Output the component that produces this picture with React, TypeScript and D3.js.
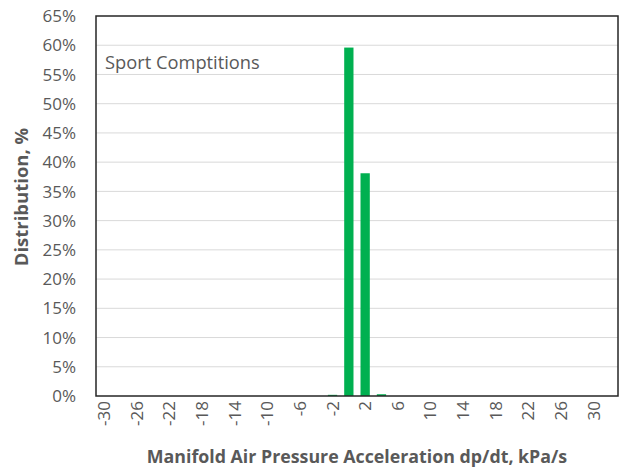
import React from "react";
import * as d3 from "d3";

const categories: number[] = d3.range(-30, 33, 2);
const values: number[] = [
  0, 0, 0, 0, 0, 0, 0, 0, 0, 0, 0, 0, 0, 0, 0.2, 59.6, 38.1, 0.3, 0, 0, 0, 0, 0, 0, 0, 0, 0, 0, 0, 0, 0, 0,
];
const yTicks: number[] = d3.range(0, 66, 5);
const xLabels: number[] = d3.range(-30, 31, 4);
const annotation = "Sport Comptitions";
const xTitle = "Manifold Air Pressure Acceleration dp/dt, kPa/s";
const yTitle = "Distribution, %";

const W = 624;
const H = 468;
const M = { left: 96, right: 6, top: 16, bottom: 72 };
const FONT = "'Open Sans', Lato, sans-serif";
const TXT = "#595959";

export default function App() {
  const x = d3
    .scaleBand<number>()
    .domain(categories)
    .range([M.left, W - M.right])
    .paddingInner(0.43)
    .paddingOuter(0.215);
  const y = d3.scaleLinear().domain([0, 65]).range([H - M.bottom, M.top]);
  const cx = (c: number) => (x(c) as number) + x.bandwidth() / 2;
  const y0 = y(0);
  return (
    <svg width={W} height={H} style={{ position: "absolute", left: 0, top: 0, background: "#fff" }}>
      {yTicks.map((t) => (
        <g key={t}>
          {t > 0 && t < 65 && (
            <line x1={M.left} x2={W - M.right} y1={y(t)} y2={y(t)} stroke="#d9d9d9" strokeWidth={1} />
          )}
          <text x={76} y={y(t)} dy="0.36em" textAnchor="end" fontFamily={FONT} fontSize={17} fill={TXT}>
            {t}%
          </text>
        </g>
      ))}
      {categories.map((c, i) => (
        <rect
          key={c}
          x={x(c)}
          y={y(values[i])}
          width={x.bandwidth()}
          height={y0 - y(values[i])}
          fill="#00b050"
        />
      ))}
      <rect
        x={M.left}
        y={M.top}
        width={W - M.right - M.left}
        height={y0 - M.top}
        fill="none"
        stroke="#262626"
        strokeWidth={1.5}
      />
      {xLabels.map((c) => (
        <text
          key={c}
          transform={`translate(${cx(c) + 6},${y0 + 5}) rotate(-90)`}
          textAnchor="end"
          fontFamily={FONT}
          fontSize={17}
          fill={TXT}
        >
          {c}
        </text>
      ))}
      <text x={105} y={69} fontFamily={FONT} fontSize={18.3} fill={TXT}>
        {annotation}
      </text>
      <text
        x={357}
        y={463}
        textAnchor="middle"
        fontFamily={FONT}
        fontSize={17.8}
        fontWeight="bold"
        fill={TXT}
      >
        {xTitle}
      </text>
      <text
        transform={`translate(28,197) rotate(-90)`}
        textAnchor="middle"
        fontFamily={FONT}
        fontSize={18.5}
        fontWeight="bold"
        fill={TXT}
      >
        {yTitle}
      </text>
    </svg>
  );
}
